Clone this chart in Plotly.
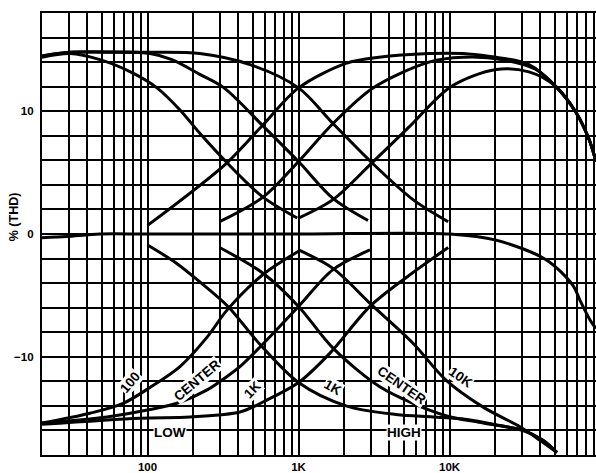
import math
import plotly.graph_objects as go

# ---------------- data (frequency in Hz, level in dB) ----------------
flat_f  = [20, 29.2, 48.4, 100, 1000, 10060, 20300, 43600, 65800, 73100, 85200, 93300]
flat_db = [-0.3, -0.2, 0.0, 0.0, 0.0, 0.0, -0.5, -2.1, -4.2, -5.4, -7.0, -7.7]

# boost curves
low_boost_100_f  = [20, 30.6, 48.4, 80.1, 115.5, 164, 222, 336, 582, 980]
low_boost_100_db = [14.4, 14.7, 14.2, 13.1, 11.9, 10.1, 8.2, 5.8, 3.0, 1.3]

low_boost_ctr_f  = [20, 30.6, 56.4, 104, 145, 222, 321, 582, 1000, 1691, 2885]
low_boost_ctr_db = [14.5, 14.8, 14.8, 14.7, 14.2, 13.0, 11.9, 8.8, 5.9, 2.9, 1.1]

low_boost_1k_f  = [20, 30.6, 93.3, 222, 477, 1000, 1691, 3063, 5727, 9800]
low_boost_1k_db = [14.5, 14.8, 14.8, 14.7, 13.8, 11.9, 9.0, 5.8, 2.8, 1.0]

high_boost_1k_f  = [100, 336, 582, 1000, 2062, 3412, 7311, 12300, 20300, 33600, 50700, 68800, 84000, 93300]
high_boost_1k_db = [0.7, 5.8, 8.9, 11.9, 13.9, 14.4, 14.7, 14.7, 14.4, 13.8, 12.0, 9.9, 7.7, 5.9]

high_boost_ctr_f  = [300, 582, 1000, 1691, 3113, 7311, 12300, 22600, 37400, 50700, 68800, 84000, 93300]
high_boost_ctr_db = [1.0, 3.0, 5.9, 9.0, 11.9, 14.0, 14.4, 14.2, 13.4, 12.0, 9.9, 7.7, 5.9]

high_boost_10k_f  = [1000, 1691, 3063, 5384, 10200, 20300, 33600, 50700, 68800, 84000, 93300]
high_boost_10k_db = [1.3, 2.8, 5.8, 8.7, 12.0, 13.4, 13.2, 12.0, 9.9, 7.7, 5.9]

# cut curves
low_cut_100_f  = [20, 41.6, 68.8, 103.8, 164, 248, 336, 582, 1000]
low_cut_100_db = [-15.4, -14.6, -13.8, -12.5, -10.8, -8.4, -6.2, -3.3, -1.4]

low_cut_ctr_f  = [20, 53.9, 103.8, 164, 248, 336, 409, 556, 1000, 1691, 2972]
low_cut_ctr_db = [-15.4, -14.9, -14.3, -13.7, -12.7, -11.6, -10.8, -9.2, -5.9, -2.9, -1.3]

low_cut_1k_f  = [20, 89.1, 191, 409, 600, 1000, 1615, 2972, 5226, 9800]
low_cut_1k_db = [-15.5, -15.0, -14.9, -14.5, -13.6, -12.1, -9.7, -5.9, -3.5, -1.1]

high_cut_1k_f  = [100, 152, 222, 341, 556, 1000, 2062, 4418, 7765, 13050, 21600, 30600, 41600, 51500]
high_cut_1k_db = [-0.9, -2.3, -3.9, -5.9, -9.0, -12.1, -14.0, -14.7, -14.9, -15.1, -15.6, -16.0, -16.8, -17.8]

high_cut_ctr_f  = [300, 582, 1000, 1691, 3412, 5727, 9470, 16700, 30600, 41600, 51500]
high_cut_ctr_db = [-1.1, -3.2, -5.9, -9.3, -12.4, -13.8, -14.8, -15.4, -16.0, -16.8, -17.8]

high_cut_10k_f  = [1000, 1691, 3063, 5727, 9470, 16700, 29300, 39700, 51500]
high_cut_10k_db = [-1.3, -2.8, -5.8, -8.9, -11.9, -14.1, -15.7, -16.8, -17.8]

# axes / ticks
x_tick_vals = [20, 30, 40, 50, 60, 70, 80, 90,
               100, 200, 300, 400, 500, 600, 700, 800, 900,
               1000, 2000, 3000, 4000, 5000, 6000, 7000, 8000, 9000,
               10000, 20000, 30000, 40000, 50000, 60000, 70000, 80000, 90000]
x_tick_text = ["100" if v == 100 else "1K" if v == 1000 else "10K" if v == 10000 else "" for v in x_tick_vals]
y_tick_vals = [-16, -14, -12, -10, -8, -6, -4, -2, 0, 2, 4, 6, 8, 10, 12, 14, 16]
y_tick_text = ["\u221210" if v == -10 else "0" if v == 0 else "10" if v == 10 else "" for v in y_tick_vals]
y_title = "% (THD)"

# curve labels: text, freq, dB, angle
labels = [
    ("100", 76.6, -12.1, -50),
    ("CENTER", 212, -11.9, -40),
    ("1K", 499, -12.7, -45),
    ("LOW", 141, -16.2, 0),
    ("1K", 1691, -12.5, 30),
    ("CENTER", 4840, -12.3, 35),
    ("10K", 11900, -11.7, 35),
    ("HIGH", 5000, -16.2, 0),
]

curves = [
    (flat_f, flat_db),
    (low_boost_100_f, low_boost_100_db), (low_boost_ctr_f, low_boost_ctr_db), (low_boost_1k_f, low_boost_1k_db),
    (high_boost_1k_f, high_boost_1k_db), (high_boost_ctr_f, high_boost_ctr_db), (high_boost_10k_f, high_boost_10k_db),
    (low_cut_100_f, low_cut_100_db), (low_cut_ctr_f, low_cut_ctr_db), (low_cut_1k_f, low_cut_1k_db),
    (high_cut_1k_f, high_cut_1k_db), (high_cut_ctr_f, high_cut_ctr_db), (high_cut_10k_f, high_cut_10k_db),
]

FONT = "Liberation Sans, Arial, sans-serif"

fig = go.Figure()
for f, db in curves:
    fig.add_trace(go.Scatter(x=f, y=db, mode="lines",
                             line=dict(color="black", width=3, shape="spline", smoothing=0.9),
                             showlegend=False, hoverinfo="skip", cliponaxis=True))

for text, fx, fy, ang in labels:
    fig.add_annotation(x=math.log10(fx), y=fy, xref="x", yref="y", text="<b>%s</b>" % text,
                       showarrow=False, textangle=ang, bgcolor="white", borderpad=0,
                       font=dict(family=FONT, size=13.5, color="black"))

# y-axis title placed as a rotated annotation (sits a little above the axis middle)
fig.add_annotation(x=-0.0505, y=0.538, xref="paper", yref="paper", text="<b>%s</b>" % y_title,
                   showarrow=False, textangle=-90, xanchor="center", yanchor="middle",
                   font=dict(family=FONT, size=12.5, color="black"))

fig.update_layout(
    width=596, height=473,
    margin=dict(l=42, r=0, t=13, b=18),
    paper_bgcolor="white", plot_bgcolor="white",
    font=dict(family=FONT, color="black"),
    xaxis=dict(type="log", range=[1.30103, 4.970], tickmode="array",
               tickvals=x_tick_vals, ticktext=x_tick_text,
               showgrid=True, gridcolor="black", gridwidth=1.7,
               showline=True, linecolor="black", linewidth=2.2, mirror=True,
               ticks="", zeroline=False, automargin=False, ticklabelstandoff=0,
               tickfont=dict(family=FONT, size=11.5, color="black", weight="bold")),
    yaxis=dict(range=[-18, 18], tickmode="array",
               tickvals=y_tick_vals, ticktext=y_tick_text,
               showgrid=True, gridcolor="black", gridwidth=1.7,
               showline=True, linecolor="black", linewidth=2.2, mirror=True,
               ticks="", zeroline=False, automargin=False, ticklabelstandoff=4,
               tickfont=dict(family=FONT, size=11.5, color="black", weight="bold")),
)

fig.write_html("out.html", config={"displayModeBar": False},
               post_script="document.body.style.margin='0';document.body.style.padding='0';")
